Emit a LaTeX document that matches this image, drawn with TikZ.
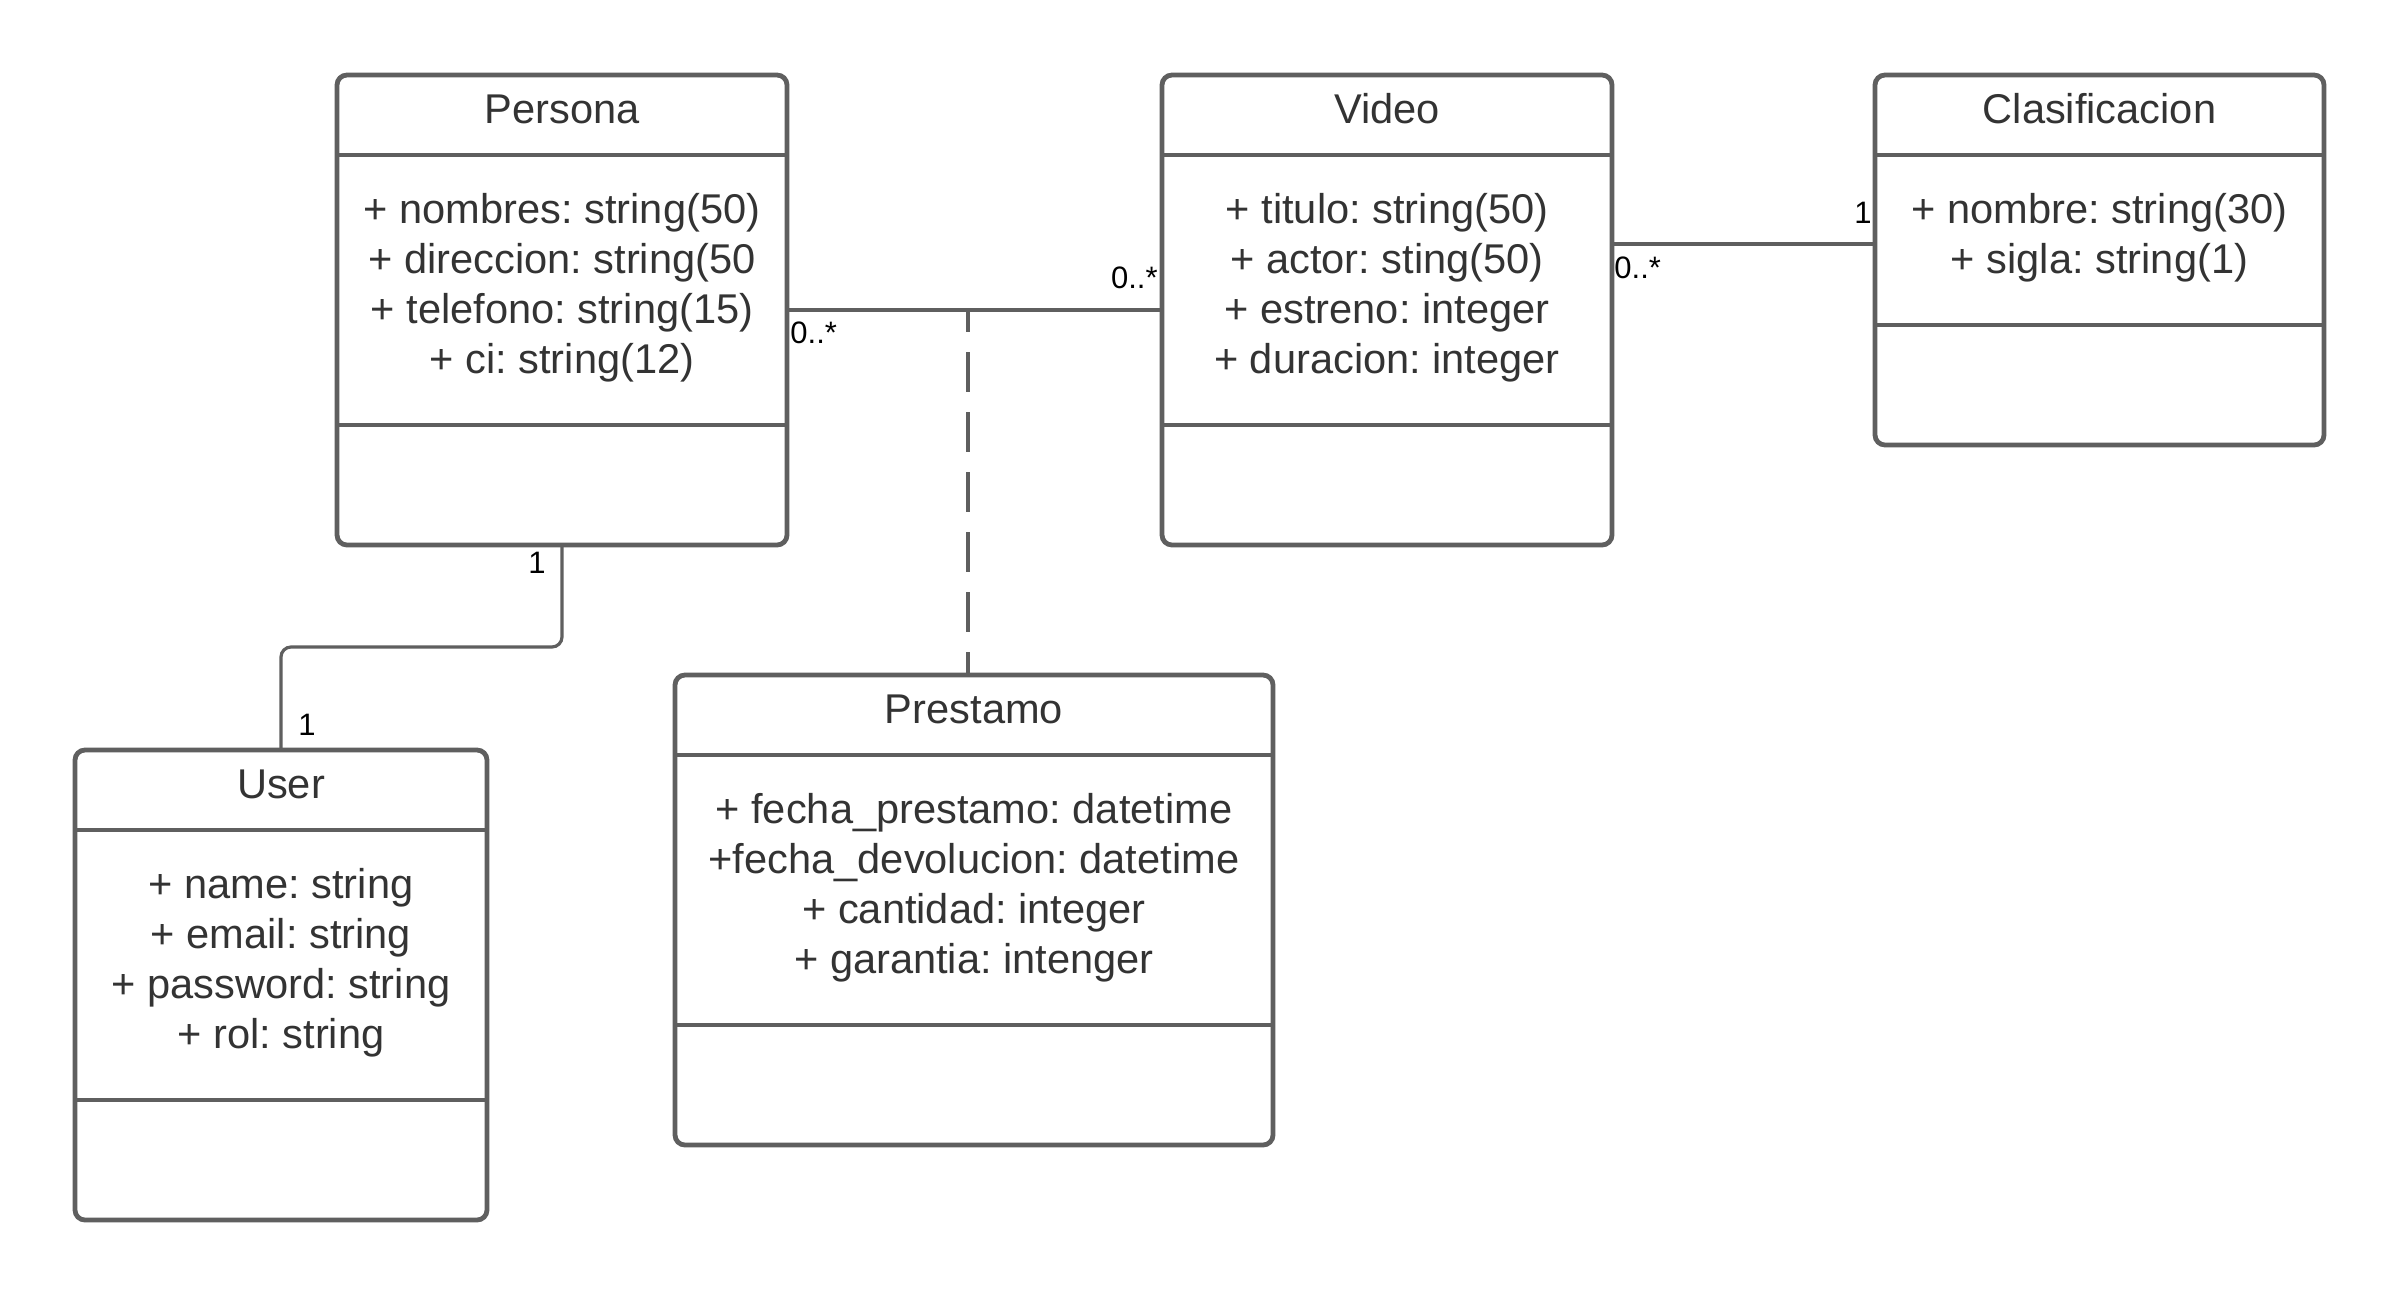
\documentclass[tikz,border=0pt]{standalone}
\usepackage{fontspec}
\setmainfont{Liberation Sans}
\frenchspacing
\definecolor{umlgray}{RGB}{95,95,95}
\definecolor{umltext}{RGB}{51,51,51}
\tikzset{
 umlbox/.style={draw=umlgray, line width=2.4pt, rounded corners=5pt, fill=white, inner sep=0pt, outer sep=0pt},
 umldiv/.style={draw=umlgray, line width=2.4pt},
 umltitle/.style={text=umltext, font=\fontsize{20.8}{25}\selectfont\frenchspacing, anchor=base, inner sep=0pt},
 umlattr/.style={umltitle},
 assoc/.style={draw=umlgray, line width=1.6pt},
 dashassoc/.style={assoc, dash pattern=on 20pt off 10pt, dash phase=9pt},
 mult/.style={text=black, font=\fontsize{15.5}{18}\selectfont, inner sep=0pt},
}
% #1 name, #2 x, #3 y, #4 w, #5 h, #6 header h, #7 attr h, #8 title, #9 attrs
\newcommand\umlclass[9]{%
 \pgfmathsetmacro\umlW{#4*0.5}%
 \pgfmathsetmacro\umlH{#5*0.5}%
 \node[umlbox, anchor=north west, minimum width=\umlW pt, minimum height=\umlH pt] (#1) at (#2,#3) {};
 \draw[umldiv] (#2,{#3+#6}) -- ({#2+#4},{#3+#6});
 \draw[umldiv] (#2,{#3+#6+#7}) -- ({#2+#4},{#3+#6+#7});
 \node[umltitle] (#1-title) at ({#2+#4/2},{#3+48}) {#8};
 \foreach \a [count=\i] in {#9} {
  \node[umlattr] (#1-attr-\i) at ({#2+#4/2},{#3+#6+68+50*(\i-1)}) {\a};
 }
}
\begin{document}
\begin{tikzpicture}[x=0.5pt,y=-0.5pt]
\fill[white] (0,0) rectangle (2400,1296);
\useasboundingbox (0,0) rectangle (2400,1296);

\umlclass{persona}{337}{75}{450}{470}{80}{270}{Persona}{+ nombres: string(50),+ direccion: string(50,+ telefono: string(15),+ ci: string(12)}
\umlclass{video}{1162}{75}{450}{470}{80}{270}{Video}{+ titulo: string(50),+ actor: sting(50),+ estreno: integer,+ duracion: integer}
\umlclass{clasif}{1875}{75}{449}{370}{80}{170}{Clasificacion}{+ nombre: string(30),+ sigla: string(1)}
\umlclass{user}{75}{750}{412}{470}{80}{270}{User}{+ name: string,+ email: string,+ password: string,+ rol: string}
\umlclass{prestamo}{675}{675}{598}{470}{80}{270}{Prestamo}{+ fecha\_prestamo: datetime,+fecha\_devolucion: datetime,+ cantidad: integer,+ garantia: intenger}

% associations
\draw[assoc] (persona.east) -- (video.west);
\coordinate (mid) at (968,310);
\draw[dashassoc] (mid) -- (mid |- prestamo.north);
\draw[assoc] ([yshift=-84.5pt]video.north east) -- ([yshift=-84.5pt]clasif.north west);
\coordinate (bend) at (0,647);
\draw[assoc, rounded corners=5pt] (persona.south) -- (persona.south |- bend) -- (user.north |- bend) -- (user.north);

% multiplicities
\node[mult, anchor=base west] (m1) at (790,343) {0..*};
\node[mult, anchor=base east] (m2) at (1158,288) {0..*};
\node[mult, anchor=base west] (m3) at (1614,278) {0..*};
\node[mult, anchor=base east] (m4) at (1872,223) {1};
\node[mult, anchor=base east] (m5) at (546,573) {1};
\node[mult, anchor=base west] (m6) at (298,735) {1};
\end{tikzpicture}
\end{document}
